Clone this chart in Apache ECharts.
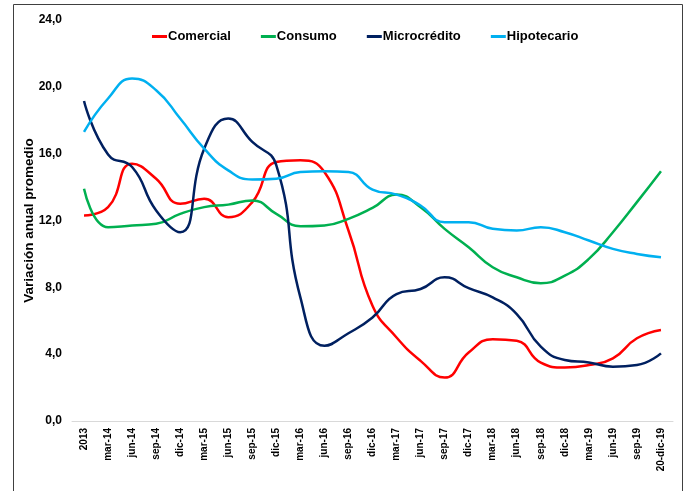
<!DOCTYPE html>
<html>
<head>
<meta charset="utf-8">
<script src="https://cdn.jsdelivr.net/npm/echarts@6/dist/echarts.min.js"></script>
<style>html,body{margin:0;padding:0;background:#fff}#c{width:692px;height:491px}</style>
</head>
<body>
<div id="c"></div>
<script>
const categories = ['2013','mar-14','jun-14','sep-14','dic-14','mar-15','jun-15','sep-15','dic-15','mar-16','jun-16','sep-16','dic-16','mar-17','jun-17','sep-17','dic-17','mar-18','jun-18','sep-18','dic-18','mar-19','jun-19','sep-19','20-dic-19'];
const comercial = [12.3,12.8,15.4,14.5,13.0,13.3,12.2,13.1,15.5,15.6,14.9,11.4,6.9,5.0,3.6,2.6,4.1,4.9,4.8,3.5,3.2,3.35,3.75,4.95,5.45];
const consumo = [13.9,11.6,11.7,11.8,12.4,12.8,12.95,13.2,12.4,11.65,11.7,12.1,12.75,13.55,12.8,11.5,10.4,9.2,8.6,8.25,8.7,9.7,11.3,13.1,14.95];
const microcredito = [19.15,15.95,15.2,12.6,11.3,16.3,18.1,16.7,15.3,7.4,4.5,5.25,6.2,7.6,7.9,8.6,7.95,7.4,6.4,4.45,3.65,3.5,3.25,3.35,4.05];
const hipotecario = [17.3,19.3,20.5,19.8,18.1,16.3,15.0,14.45,14.5,14.9,14.95,14.9,13.85,13.55,12.9,11.9,11.9,11.5,11.4,11.6,11.3,10.8,10.3,10.0,9.8];
const yTicks = {min: 0, max: 24, interval: 4};

const font = '"Liberation Sans",Arial,sans-serif';
const chart = echarts.init(document.getElementById('c'));
function mk(name, data, color) {
  return {name, type:'line', data, smooth:0.5, showSymbol:false, symbol:'none',
    lineStyle:{color, width:2.5}, itemStyle:{color}};
}
chart.setOption({
  animation:false,
  graphic:[{type:'rect', shape:{x:13.5,y:4.5,width:669,height:500}, style:{fill:'none', stroke:'#404040', lineWidth:1}}],
  legend:{top:25, left:147, itemWidth:15, itemHeight:3, itemGap:30, icon:'rect',
    textStyle:{fontFamily:font, fontWeight:'bold', fontSize:13, color:'#000', padding:[0,0,0,-4]},
    data:['Comercial','Consumo','Microcrédito','Hipotecario']},
  grid:{left:72, right:19, top:20, bottom:70, containLabel:false, outerBoundsMode:'none'},
  xAxis:{type:'category', data:categories, boundaryGap:true,
    axisLine:{lineStyle:{color:'#d9d9d9', width:1}}, axisTick:{show:false},
    axisLabel:{rotate:90, interval:0, fontFamily:font, fontWeight:'bold', fontSize:10, color:'#000', margin:7}},
  yAxis:{type:'value', min:yTicks.min, max:yTicks.max, interval:yTicks.interval,
    name:'Variación anual promedio', nameLocation:'middle', nameGap:43, nameRotate:90, nameMoveOverlap:false,
    nameTextStyle:{fontFamily:font, fontWeight:'bold', fontSize:13.5, color:'#000', verticalAlign:'middle'},
    axisLine:{show:false}, axisTick:{show:false}, splitLine:{show:false},
    axisLabel:{fontFamily:font, fontWeight:'bold', fontSize:12, color:'#000', margin:10,
      formatter:v=>v.toFixed(1).replace('.',',')}},
  series:[
    mk('Comercial', comercial, '#ff0000'),
    mk('Consumo', consumo, '#00b050'),
    mk('Microcrédito', microcredito, '#002060'),
    mk('Hipotecario', hipotecario, '#00b0f0')
  ]
});
</script>
</body>
</html>
